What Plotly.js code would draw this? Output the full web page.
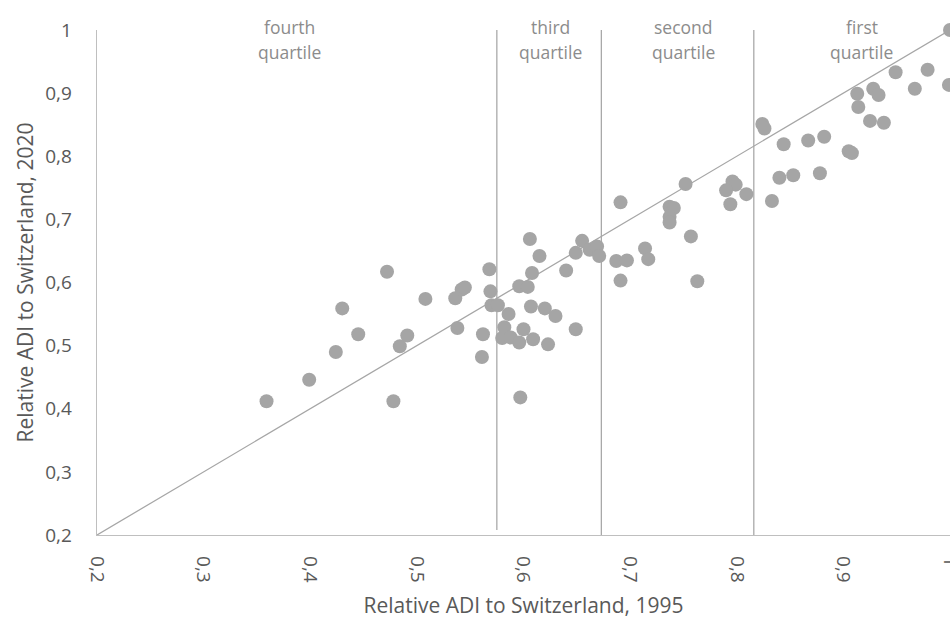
<!DOCTYPE html>
<html>
<head>
<meta charset="utf-8">
<script src="https://cdn.plot.ly/plotly-3.0.1.min.js"></script>
<style>html,body{margin:0;padding:0;background:#fff;}#chart{width:950px;height:619px;}</style>
</head>
<body>
<div id="chart"></div>
<script>
// Relative ADI to Switzerland, 1995 (x) and 2020 (y)
const adi1995 = [
  0.359,0.399,0.424,0.430,0.445,0.472,0.478,0.484,0.491,0.508,
  0.536,0.538,0.542,0.545,0.561,0.562,0.568,0.569,0.570,0.576,
  0.580,0.582,0.586,0.588,0.596,0.596,0.597,0.600,0.604,0.606,
  0.607,0.608,0.609,0.615,0.620,0.623,0.630,0.640,0.649,0.649,
  0.655,0.662,0.669,0.671,0.687,0.691,0.691,0.697,0.714,0.717,
  0.737,0.741,0.737,0.737,0.752,0.757,0.763,0.796,0.799,0.790,
  0.809,0.794,0.824,0.826,0.833,0.840,0.844,0.853,0.867,0.878,
  0.882,0.905,0.908,0.913,0.914,0.925,0.928,0.933,0.938,0.949,
  0.967,0.979,1.000,0.999
];
const adi2020 = [
  0.412,0.446,0.490,0.559,0.518,0.617,0.412,0.499,0.516,0.574,
  0.575,0.528,0.589,0.592,0.482,0.518,0.621,0.586,0.564,0.564,
  0.512,0.529,0.550,0.513,0.594,0.505,0.418,0.526,0.593,0.669,
  0.562,0.615,0.510,0.642,0.559,0.502,0.547,0.619,0.526,0.647,
  0.666,0.652,0.657,0.642,0.634,0.727,0.603,0.635,0.654,0.637,
  0.720,0.718,0.704,0.695,0.756,0.673,0.602,0.760,0.755,0.746,
  0.740,0.724,0.851,0.844,0.729,0.766,0.819,0.770,0.825,0.773,
  0.831,0.808,0.805,0.899,0.878,0.856,0.907,0.897,0.853,0.933,
  0.907,0.937,1.000,0.913
];
// Quartile boundaries (1995 values) and labels
const quartileBounds = [0.575, 0.673, 0.816];
const quartileLow = [0.208, 0.19, 0.2];
const quartileLabelX = [0.381, 0.625, 0.75, 0.917];
const quartileLabels = ["fourth", "third", "second", "first"];
// Equality line
const diagX = [0.2, 1];
const diagY = [0.2, 1];
// Axis ticks
const tickVals = [0.2,0.3,0.4,0.5,0.6,0.7,0.8,0.9,1];

const lineColor = "#a6a6a6";
const traces = [];
traces.push({x: diagX, y: diagY, mode: "lines", type: "scatter",
  line: {color: lineColor, width: 1.25}, hoverinfo: "skip", showlegend: false});
quartileBounds.forEach((b, i) => {
  traces.push({x: [b, b], y: [quartileLow[i], 1], mode: "lines", type: "scatter",
    line: {color: lineColor, width: 1.25}, hoverinfo: "skip", showlegend: false});
});
traces.push({x: adi1995, y: adi2020, mode: "markers", type: "scatter",
  marker: {color: "#a5a5a5", size: 14}, cliponaxis: false, showlegend: false});

const annotations = [];
quartileLabels.forEach((lab, i) => {
  annotations.push({x: quartileLabelX[i], xref: "x", y: 1.0059, yref: "paper",
    text: lab, showarrow: false, xanchor: "center", yanchor: "middle",
    font: {family: "Open Sans", size: 17.5, color: "#8c8c8c"}});
  annotations.push({x: quartileLabelX[i], xref: "x", y: 0.9564, yref: "paper",
    text: "quartile", showarrow: false, xanchor: "center", yanchor: "middle",
    font: {family: "Open Sans", size: 17.5, color: "#8c8c8c"}});
});

const layout = {
  width: 950, height: 619,
  margin: {l: 97, r: 0, t: 30, b: 84, pad: 0},
  paper_bgcolor: "#fff", plot_bgcolor: "#fff",
  separators: ",.",
  font: {family: "Open Sans", color: "#595959", size: 16},
  xaxis: {
    range: [0.2, 1], tickvals: tickVals, tickangle: 90,
    showgrid: false, zeroline: false, showline: true, linecolor: "#bfbfbf", linewidth: 1.3,
    ticks: "", ticklabelstandoff: 16, ticklabeloverflow: "allow",
    tickfont: {family: "Open Sans", size: 19, color: "#595959"},
    title: {text: "Relative ADI to Switzerland, 1995", standoff: 18,
      font: {family: "Open Sans", size: 21, color: "#595959"}}
  },
  yaxis: {
    range: [0.2, 1], tickvals: tickVals,
    showgrid: false, zeroline: false, showline: true, linecolor: "#bfbfbf", linewidth: 1.3,
    ticks: "", ticklabelstandoff: 20,
    tickfont: {family: "Open Sans", size: 19, color: "#595959"},
    title: {text: "Relative ADI to Switzerland, 2020", standoff: 6,
      font: {family: "Open Sans", size: 21, color: "#595959"}}
  },
  annotations: annotations
};
Plotly.newPlot("chart", traces, layout, {displayModeBar: false, staticPlot: true});
</script>
</body>
</html>
